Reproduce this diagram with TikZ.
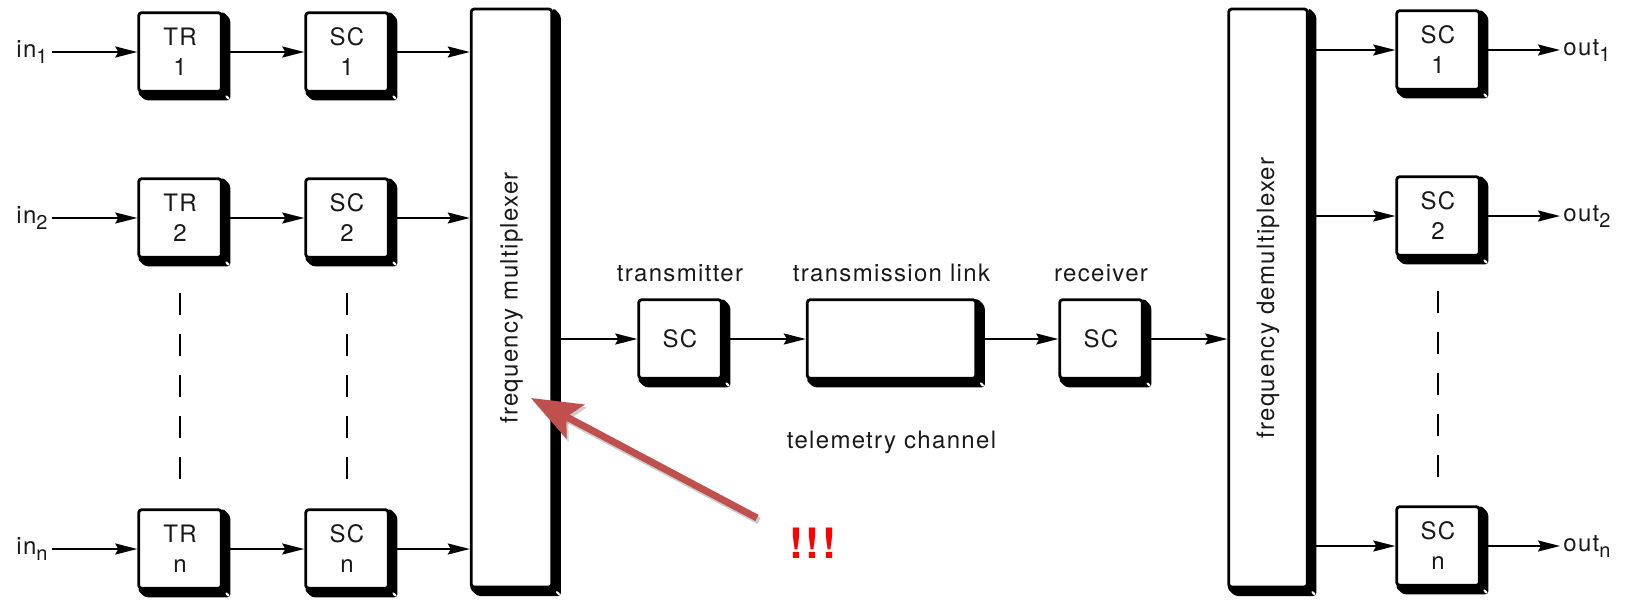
\documentclass[tikz,border=0pt]{standalone}
\usepackage{fontspec}
\setmainfont{TeX Gyre Heros}[LetterSpace=5.5]
\usetikzlibrary{arrows.meta,positioning,backgrounds}

\definecolor{notered}{RGB}{192,80,77}
\newcommand{\chsub}[1]{\raisebox{-3pt}{\fontsize{10}{10}\selectfont #1}}

\begin{document}
\begin{tikzpicture}[x=0.5pt,y=-0.5pt,
    font=\fontsize{12}{15}\selectfont, text=black!90,
    block/.style={draw=black, line width=1.4pt, fill=white, rounded corners=1.5pt,
      minimum width=41.3pt, minimum height=39.3pt, inner sep=0pt, align=center},
    sig/.style={line width=1pt, -{Stealth[length=11pt,width=5.5pt,inset=1.5pt]}},
    dashline/.style={line width=1pt, dash pattern=on 11pt off 9.5pt},
    note/.style={draw=notered, line width=3.5pt, -{Stealth[length=25pt,width=19pt,inset=5pt]}}]

  \def\shd{3.8pt}

  \useasboundingbox (0,0) rectangle (1633,606);

  % input channels
  \foreach \i/\y in {1/52,2/218,n/549} {
    \node (in\i) [anchor=east, inner sep=2pt] at (52,\y) {in\chsub{\i}};
    \node (tr\i) [block] at (180,\y) {TR\\\i};
    \node (sc\i) [block] at (347,\y) {SC\\\i};
  }

  % multiplexer
  \node (mux) [block, minimum width=40.3pt, minimum height=289pt] at (511.5,298) {};
  \node (muxlabel) [rotate=90] at (mux) {frequency multiplexer};

  % telemetry channel
  \node (tx) [block] at (680,339) {SC};
  \node (link) [block, minimum width=84.3pt] at (891.5,339) {};
  \node (rx) [block] at (1101,339) {SC};
  \node (txlabel) [above=4.5pt of tx] {transmitter};
  \node (linklabel) [above=4.5pt of link] {transmission link};
  \node (rxlabel) [above=4.5pt of rx] {receiver};
  \node (chan) [below=22pt of link] {telemetry channel};

  % demultiplexer
  \node (demux) [block, minimum width=39.3pt, minimum height=289pt] at (1268,298) {};
  \node (demuxlabel) [rotate=90] at (demux) {frequency demultiplexer};

  % output channels
  \foreach \i/\y in {1/50,2/216,n/546} {
    \node (so\i) [block] at (1438,\y) {SC\\\i};
    \node (out\i) [anchor=west, inner sep=1.5pt] at (1560,\y) {out\chsub{\i}};
  }

  % shading of the blocks
  \begin{scope}[on background layer]
    \foreach \b in {tr1,tr2,trn,sc1,sc2,scn,mux,tx,link,rx,demux,so1,so2,son} {
      \fill[rounded corners=1.5pt] (\b.north east) -- ++(\shd,-\shd)
        -- ([xshift=\shd,yshift=-\shd]\b.south east)
        -- ([xshift=\shd,yshift=-\shd]\b.south west) -- (\b.south west) -- cycle;
      \fill[white] ([xshift=\shd-1.4pt,yshift=-\shd+1.4pt]\b.south east)
        ellipse [x radius=1.3pt, y radius=0.6pt, rotate=-45];
    }
  \end{scope}

  % signal paths
  \foreach \i in {1,2,n} {
    \draw[sig] (in\i) -- (tr\i);
    \draw[sig] (tr\i) -- (sc\i);
    \draw[sig] (sc\i) -- (sc\i -| mux.west);
    \draw[sig] (demux.east |- so\i) -- (so\i);
    \draw[sig] (so\i) -- (out\i);
  }
  \draw[sig] (mux.east |- tx) -- (tx);
  \draw[sig] (tx) -- (link);
  \draw[sig] (link) -- (rx);
  \draw[sig] (rx) -- (rx -| demux.west);

  % dots between channel 2 and n
  \foreach \a/\b in {tr2/trn,sc2/scn,so2/son}
    \draw[dashline] ([yshift=-17pt]\a.south) -- ([yshift=14pt]\b.north);

  % red remark
  \coordinate (notetail) at (757,518);
  \coordinate (notetip) at (531,398);
  \draw[note, draw=black, opacity=0.2, transform canvas={shift={(1pt,-1.5pt)}}] (notetail) -- (notetip);
  \draw[note] (notetail) -- (notetip);
  \node (alarm) [text=red, font=\fontsize{21}{21}\selectfont\bfseries] at (813,543) {!!!};

\end{tikzpicture}
\end{document}
